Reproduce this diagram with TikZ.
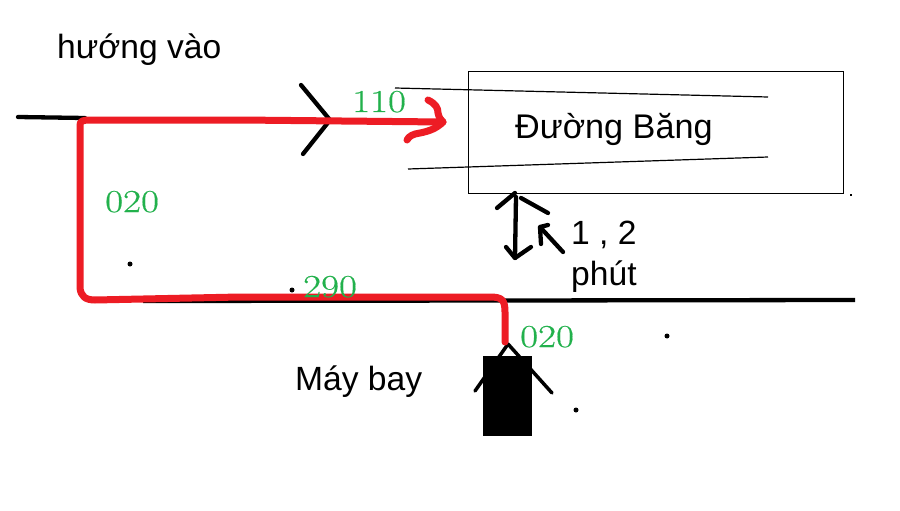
\documentclass[tikz,border=0pt]{standalone}
\usepackage{graphicx}
\usepackage{fontspec}
\setmainfont{Liberation Sans}
\newfontfamily\hdgfont[FakeBold=0.4]{Latin Modern Roman}
\definecolor{routered}{RGB}{237,28,36}
\definecolor{headinggreen}{RGB}{34,177,76}
\tikzset{
  x=1pt,y=-1pt,
  label text/.style={inner sep=0pt,anchor=base west,font=\fontsize{33.6}{36}\selectfont},
  heading/.style={inner sep=0pt,anchor=base west,text=headinggreen,font=\hdgfont\fontsize{32}{36}\selectfont},
  ink/.style={draw=black,line width=4.3pt,line cap=round,line join=round},
  thinink/.style={draw=black,line width=1.2pt},
  route/.style={draw=routered,line width=7pt,line cap=round,line join=round},
  speck/.style={fill=black,circle,inner sep=0pt,minimum size=5pt},
}
\newcommand{\hdg}[1]{\scalebox{1.22}[1]{#1}}
\begin{document}
\begin{tikzpicture}
\useasboundingbox (0,0) rectangle (900,511);
\fill[white] (0,0) rectangle (900,511);

% Anchor points along the taxi and approach tracks
\coordinate (entryL) at (18,117);
\coordinate (entryR) at (85,118);
\coordinate (twyL) at (143,301);
\coordinate (twyR) at (855,300);
\coordinate (nose) at (508,344);
\coordinate (wingL) at (475,391);
\coordinate (wingR) at (552,393);
\coordinate (finalTip) at (330,120);
\coordinate (finalU) at (301,85);
\coordinate (finalD) at (303,154);
\coordinate (arrTip) at (443,122);

% Runway box and its edge lines
\node[draw=black,line width=1.2pt,inner sep=0pt,minimum width=375pt,minimum height=122pt,anchor=north west] (rwy) at (468,71) {};
\coordinate (edgeA1) at (395,88);
\coordinate (edgeA2) at (768,97);
\coordinate (edgeB1) at (408,169);
\coordinate (edgeB2) at (768,157);
\draw[thinink] (edgeA1) -- (edgeA2);
\draw[thinink] (edgeB1) -- (edgeB2);

% Black ground lines
\draw[ink] (entryL) -- (entryR);
\draw[ink,line cap=butt] (twyL) -- (twyR);

% Approach marker
\draw[ink] (finalU) -- (finalTip) -- (finalD);

% Distance arrows between runway and taxiway
\coordinate (gapT) at (516,197);
\coordinate (gapB) at (515,258);
\draw[ink] (gapT) -- (gapB);
\draw[ink] (497,208) -- (515,193);
\draw[ink] (521,198) -- (548,213);
\draw[ink] (506,247) -- (gapB) -- (531,247);
\coordinate (ptrTip) at (540,227);
\coordinate (ptrTail) at (563,252);
\draw[ink] (ptrTail) -- (ptrTip);
\draw[ink] (541,244) -- (ptrTip) -- (548,225);

% Aircraft
\draw[ink,line width=3.5pt] (wingL) -- (nose) -- (wingR);
\node[fill=black,inner sep=0pt,minimum width=49pt,minimum height=80pt,anchor=north west] (plane) at (483,356) {};

% Flight track
\draw[route] (505,342) -- (505,312) .. controls (505,300) and (502,297) .. (490,297)
  -- (400,297) -- (240,297) -- (95,300) .. controls (85,300) and (81,296) .. (80,288)
  -- (80,125) .. controls (80,121) and (83,120) .. (90,120)
  -- (240,120) -- (arrTip);
\draw[route] (428,100) .. controls (436,104) and (438,108) .. (438,113)
  .. controls (439,118) and (441,120) .. (arrTip)
  .. controls (437,128) and (430,131) .. (420,133) .. controls (413,134) and (409,136) .. (407,140);

% Isolated specks
\node[speck] (s1) at (130,264) {};
\node[speck] (s2) at (292,290) {};
\node[speck] (s3) at (667,336) {};
\node[speck] (s4) at (576,410) {};
\node[fill=black,inner sep=0pt,minimum size=1.5pt] (s5) at (851,195) {};

% Labels
\node[label text] (tIn) at (57,59) {hướng vào};
\node[label text,font=\fontsize{34.2}{36}\selectfont] (tRwy) at (515,139) {Đường Băng};
\node[label text] (tOne) at (571,244) {1 , 2};
\node[label text] (tMin) at (571,285) {phút};
\node[label text] (tPlane) at (295,390) {Máy bay};

\node[heading] (h110) at (352,112) {\hdg{110}};
\node[heading] (h020a) at (105,212) {\hdg{020}};
\node[heading] (h290) at (303,297) {\hdg{290}};
\node[heading] (h020b) at (520,347) {\hdg{020}};
\end{tikzpicture}
\end{document}
